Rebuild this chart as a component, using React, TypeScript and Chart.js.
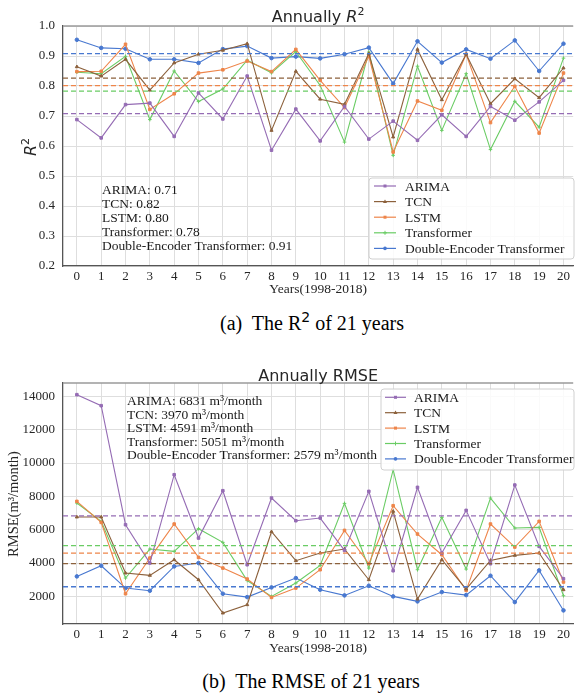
import React, { useEffect, useRef } from 'react';
import { Chart, registerables } from 'chart.js';

Chart.register(...registerables);

// ---------- data ----------
const YEARS = [0, 1, 2, 3, 4, 5, 6, 7, 8, 9, 10, 11, 12, 13, 14, 15, 16, 17, 18, 19, 20];
const MODELS = ['ARIMA', 'TCN', 'LSTM', 'Transformer', 'Double-Encoder Transformer'];
const COLORS = ['#956cb4', '#8c613c', '#ee854a', '#6acc64', '#4878d0'];
const MARKERS = ['rect', 'triangle', 'rect', 'cross', 'circle'];

const R2_ARIMA = [0.688, 0.627, 0.738, 0.743, 0.632, 0.777, 0.690, 0.833, 0.586, 0.723, 0.617, 0.732, 0.623, 0.683, 0.619, 0.704, 0.632, 0.732, 0.686, 0.747, 0.819];
const R2_TCN = [0.864, 0.833, 0.889, 0.786, 0.877, 0.906, 0.919, 0.941, 0.652, 0.849, 0.756, 0.739, 0.908, 0.630, 0.922, 0.754, 0.906, 0.741, 0.824, 0.761, 0.860];
const R2_LSTM = [0.848, 0.849, 0.939, 0.722, 0.774, 0.843, 0.854, 0.883, 0.848, 0.922, 0.819, 0.728, 0.899, 0.580, 0.750, 0.719, 0.906, 0.678, 0.799, 0.643, 0.843];
const R2_TRANSFORMER = [0.846, 0.841, 0.899, 0.688, 0.850, 0.748, 0.790, 0.886, 0.844, 0.915, 0.802, 0.613, 0.913, 0.569, 0.866, 0.652, 0.841, 0.588, 0.749, 0.663, 0.893];
const R2_DET = [0.954, 0.927, 0.924, 0.889, 0.889, 0.877, 0.923, 0.933, 0.893, 0.898, 0.892, 0.906, 0.928, 0.808, 0.949, 0.878, 0.922, 0.891, 0.952, 0.850, 0.941];
const R2_MEAN_LINES = [0.708, 0.826, 0.801, 0.783, 0.908];
const R2_MEAN_LABELS = ['0.71', '0.82', '0.80', '0.78', '0.91'];
const R2_TICKS = [0.2, 0.3, 0.4, 0.5, 0.6, 0.7, 0.8, 0.9, 1.0];

const RMSE_ARIMA = [14100, 13440, 6300, 4000, 9300, 5500, 8340, 3900, 7900, 6540, 6700, 4760, 8300, 3540, 8540, 4600, 7160, 3960, 8680, 5000, 3060];
const RMSE_TCN = [6760, 6760, 3400, 3260, 4200, 3000, 1000, 1500, 5880, 4140, 4600, 4840, 3000, 7100, 1840, 4200, 2440, 4160, 4460, 4600, 2400];
const RMSE_LSTM = [7700, 6440, 2160, 4300, 6340, 4340, 3700, 3040, 1940, 2500, 3600, 5960, 3960, 7440, 5740, 4500, 2360, 6340, 4960, 6500, 2860];
const RMSE_TRANSFORMER = [7600, 6500, 3100, 4840, 4700, 6060, 5240, 2950, 2000, 2800, 3860, 7580, 3700, 9600, 3600, 6740, 3640, 7900, 6100, 6140, 2040];
const RMSE_DET = [3200, 3840, 2500, 2340, 3800, 4000, 2160, 1960, 2540, 3100, 2400, 2060, 2640, 2000, 1700, 2260, 2080, 3240, 1660, 3560, 1160];
const RMSE_MEANS = [6831, 3970, 4591, 5051, 2579];
const RMSE_TICKS = [2000, 4000, 6000, 8000, 10000, 12000, 14000];

const X_MIN = -0.57;
const X_MAX = 20.4;

// ---------- styles ----------
const SERIF = '"Liberation Serif", "Times New Roman", serif';
const SANS = '"DejaVu Sans", sans-serif';
const GRID = '#dedede';
const AXIS = '#555555';
const TICK = '#262626';

type Part = { text: string; font: string; dy?: number };

type Spec = {
  height: number;
  padTop: number;
  areaBottom: number;
  yMin: number;
  yMax: number;
  yTicks: number[];
  yFmt: (v: number) => string;
  series: number[][];
  means: number[];
  title: Part[];
  titleBaseline: number;
  yLabel: Part[];
  yLabelX: number;
  yLabelY: number;
  xLabelBaseline: number;
  xTickPad: number;
  annot: { x: number; y0: number; dy: number; lines: string[] };
  legend: { x: number; y: number; w: number; h: number; row0: number; dy: number; hx0: number; hx1: number; tx: number };
};

function drawParts(ctx: CanvasRenderingContext2D, parts: Part[], cx: number, baseline: number) {
  let total = 0;
  parts.forEach((p) => {
    ctx.font = p.font;
    total += ctx.measureText(p.text).width;
  });
  let x = cx - total / 2;
  ctx.textAlign = 'left';
  ctx.textBaseline = 'alphabetic';
  parts.forEach((p) => {
    ctx.font = p.font;
    ctx.fillText(p.text, x, baseline + (p.dy || 0));
    x += ctx.measureText(p.text).width;
  });
}

function drawMarker(ctx: CanvasRenderingContext2D, style: string, x: number, y: number, r: number, color: string) {
  ctx.fillStyle = color;
  ctx.strokeStyle = color;
  ctx.lineWidth = 1;
  ctx.beginPath();
  if (style === 'rect') {
    ctx.fillRect(x - r * 0.75, y - r * 0.75, r * 1.5, r * 1.5);
  } else if (style === 'triangle') {
    ctx.moveTo(x, y - r * 1.1);
    ctx.lineTo(x + r, y + r * 0.7);
    ctx.lineTo(x - r, y + r * 0.7);
    ctx.closePath();
    ctx.fill();
  } else if (style === 'cross') {
    ctx.moveTo(x - r, y);
    ctx.lineTo(x + r, y);
    ctx.moveTo(x, y - r);
    ctx.lineTo(x, y + r);
    ctx.stroke();
  } else {
    ctx.arc(x, y, r * 0.9, 0, Math.PI * 2);
    ctx.fill();
  }
}

function overlay(spec: Spec) {
  return {
    id: 'overlay',
    afterDraw(chart: any) {
      const ctx: CanvasRenderingContext2D = chart.ctx;
      const a = chart.chartArea;
      ctx.save();
      // top frame line
      ctx.strokeStyle = '#9a9a9a';
      ctx.lineWidth = 1.5;
      ctx.beginPath();
      ctx.moveTo(a.left, a.top);
      ctx.lineTo(a.right, a.top);
      ctx.stroke();

      // title
      ctx.fillStyle = '#262626';
      drawParts(ctx, spec.title, (a.left + a.right) / 2, spec.titleBaseline);

      // x label
      ctx.fillStyle = '#262626';
      drawParts(ctx, [{ text: 'Years(1998-2018)', font: `13.5px ${SERIF}` }], (a.left + a.right) / 2, spec.xLabelBaseline);

      // y label
      ctx.save();
      ctx.translate(spec.yLabelX, spec.yLabelY);
      ctx.rotate(-Math.PI / 2);
      drawParts(ctx, spec.yLabel, 0, 0);
      ctx.restore();

      // annotation
      ctx.fillStyle = '#1a1a1a';
      ctx.font = `13.5px ${SERIF}`;
      ctx.textAlign = 'left';
      ctx.textBaseline = 'alphabetic';
      spec.annot.lines.forEach((t, i) => {
        ctx.fillText(t, spec.annot.x, spec.annot.y0 + i * spec.annot.dy);
      });

      // legend
      const L = spec.legend;
      ctx.beginPath();
      const rr = 3;
      ctx.moveTo(L.x + rr, L.y);
      ctx.lineTo(L.x + L.w - rr, L.y);
      ctx.quadraticCurveTo(L.x + L.w, L.y, L.x + L.w, L.y + rr);
      ctx.lineTo(L.x + L.w, L.y + L.h - rr);
      ctx.quadraticCurveTo(L.x + L.w, L.y + L.h, L.x + L.w - rr, L.y + L.h);
      ctx.lineTo(L.x + rr, L.y + L.h);
      ctx.quadraticCurveTo(L.x, L.y + L.h, L.x, L.y + L.h - rr);
      ctx.lineTo(L.x, L.y + rr);
      ctx.quadraticCurveTo(L.x, L.y, L.x + rr, L.y);
      ctx.closePath();
      ctx.fillStyle = 'rgba(255,255,255,0.85)';
      ctx.fill();
      ctx.strokeStyle = '#d0d0d0';
      ctx.lineWidth = 1;
      ctx.stroke();

      MODELS.forEach((name, i) => {
        const y = L.row0 + i * L.dy;
        ctx.strokeStyle = COLORS[i];
        ctx.lineWidth = 1.2;
        ctx.beginPath();
        ctx.moveTo(L.hx0, y);
        ctx.lineTo(L.hx1, y);
        ctx.stroke();
        drawMarker(ctx, MARKERS[i], (L.hx0 + L.hx1) / 2, y, 2, COLORS[i]);
        ctx.fillStyle = '#1a1a1a';
        ctx.font = `13.5px ${SERIF}`;
        ctx.textAlign = 'left';
        ctx.textBaseline = 'alphabetic';
        ctx.fillText(name, L.tx, y + 4.5);
      });
      ctx.restore();
    },
  };
}

function buildConfig(spec: Spec): any {
  const lineSets = spec.series.map((vals, i) => ({
    label: MODELS[i],
    data: vals.map((v, k) => ({ x: YEARS[k], y: v })),
    borderColor: COLORS[i],
    backgroundColor: COLORS[i],
    pointBackgroundColor: COLORS[i],
    pointBorderColor: COLORS[i],
    pointStyle: MARKERS[i],
    pointRadius: 1.8,
    pointBorderWidth: 1,
    pointHoverRadius: 0,
    borderWidth: 1.1,
    tension: 0,
    fill: false,
  }));
  const meanSets = spec.means.map((m, i) => ({
    label: MODELS[i] + ' mean',
    data: [
      { x: X_MIN, y: m },
      { x: X_MAX, y: m },
    ],
    borderColor: COLORS[i],
    borderDash: [5, 3],
    borderWidth: 1.3,
    pointRadius: 0,
    pointHoverRadius: 0,
    fill: false,
  }));
  const tickFont = { family: SERIF, size: 13 };
  return {
    type: 'line',
    data: { datasets: [...meanSets, ...lineSets] },
    options: {
      responsive: false,
      animation: false,
      devicePixelRatio: 1,
      events: [],
      layout: { padding: { top: spec.padTop, right: 1, left: 0, bottom: 0 } },
      plugins: { legend: { display: false }, tooltip: { enabled: false }, title: { display: false } },
      scales: {
        x: {
          type: 'linear',
          min: X_MIN,
          max: X_MAX,
          afterBuildTicks: (ax: any) => {
            ax.ticks = YEARS.map((v) => ({ value: v }));
          },
          afterFit: (s: any) => {
            s.height = spec.height - spec.areaBottom;
          },
          grid: { color: GRID, lineWidth: 1, drawTicks: false },
          border: { display: true, color: AXIS, width: 1.3 },
          ticks: {
            font: tickFont,
            color: TICK,
            padding: spec.xTickPad,
            maxRotation: 0,
            autoSkip: false,
            callback: (v: any) => String(v),
          },
        },
        y: {
          type: 'linear',
          min: spec.yMin,
          max: spec.yMax,
          afterBuildTicks: (ax: any) => {
            ax.ticks = spec.yTicks.map((v) => ({ value: v }));
          },
          afterFit: (s: any) => {
            s.width = 63;
          },
          grid: { color: GRID, lineWidth: 1, drawTicks: false },
          border: { display: true, color: AXIS, width: 1.3 },
          ticks: {
            font: tickFont,
            color: TICK,
            padding: 8,
            callback: (v: any) => spec.yFmt(Number(v)),
          },
        },
      },
    },
    plugins: [overlay(spec)],
  };
}

const SPEC_R2: Spec = {
  height: 305,
  padTop: 26,
  areaBottom: 266,
  yMin: 0.2,
  yMax: 1.0,
  yTicks: R2_TICKS,
  yFmt: (v) => v.toFixed(1),
  series: [R2_ARIMA, R2_TCN, R2_LSTM, R2_TRANSFORMER, R2_DET],
  means: R2_MEAN_LINES,
  title: [
    { text: 'Annually ', font: `16px ${SANS}` },
    { text: 'R', font: `oblique 16px ${SANS}` },
    { text: '2', font: `11px ${SANS}`, dy: -7 },
  ],
  titleBaseline: 21.5,
  yLabel: [
    { text: 'R', font: `oblique 16px ${SANS}` },
    { text: '2', font: `11px ${SANS}`, dy: -7 },
  ],
  yLabelX: 36,
  yLabelY: 147,
  xLabelBaseline: 293,
  xTickPad: 3,
  annot: { x: 102, y0: 194, dy: 14, lines: MODELS.map((m, i) => `${m}: ${R2_MEAN_LABELS[i]}`) },
  legend: { x: 369, y: 178, w: 205, h: 81, row0: 186, dy: 15.6, hx0: 374, hx1: 396, tx: 405 },
};

const SPEC_RMSE: Spec = {
  height: 320,
  padTop: 43,
  areaBottom: 284,
  yMin: 345,
  yMax: 14800,
  yTicks: RMSE_TICKS,
  yFmt: (v) => String(Math.round(v)),
  series: [RMSE_ARIMA, RMSE_TCN, RMSE_LSTM, RMSE_TRANSFORMER, RMSE_DET],
  means: RMSE_MEANS,
  title: [{ text: 'Annually RMSE', font: `16px ${SANS}` }],
  titleBaseline: 40.7,
  yLabel: [{ text: 'RMSE(m³/month)', font: `14.5px ${SERIF}` }],
  yLabelX: 18,
  yLabelY: 164,
  xLabelBaseline: 311.5,
  xTickPad: 3,
  annot: { x: 127, y0: 65.3, dy: 13.4, lines: MODELS.map((m, i) => `${m}: ${RMSE_MEANS[i]} m³/month`) },
  legend: { x: 381, y: 49, w: 193, h: 81, row0: 57.3, dy: 15.4, hx0: 385, hx1: 406, tx: 414 },
};

function Panel({ spec, top }: { spec: Spec; top: number }) {
  const ref = useRef<HTMLCanvasElement>(null);
  useEffect(() => {
    const chart = new Chart(ref.current as HTMLCanvasElement, buildConfig(spec));
    return () => chart.destroy();
  }, [spec]);
  return (
    <canvas
      ref={ref}
      width={576}
      height={spec.height}
      style={{ position: 'absolute', left: 0, top, width: 576, height: spec.height, display: 'block' }}
    />
  );
}

const captionStyle: React.CSSProperties = {
  position: 'absolute',
  transform: 'translateX(-50%)',
  fontFamily: SERIF,
  fontSize: 20,
  lineHeight: '20px',
  whiteSpace: 'nowrap',
  color: '#000',
};

export default function App() {
  return (
    <div style={{ position: 'absolute', left: 0, top: 0, width: 576, height: 694, background: '#fff', overflow: 'hidden' }}>
      <Panel spec={SPEC_R2} top={0} />
      <Panel spec={SPEC_RMSE} top={340} />
      <div style={{ ...captionStyle, left: 312, top: 313 }}>
        (a)&nbsp; The R<sup style={{ fontSize: 14, fontFamily: SANS, verticalAlign: 'top', lineHeight: '14px', position: 'relative', top: -3 }}>2</sup> of 21 years
      </div>
      <div style={{ ...captionStyle, left: 311, top: 671 }}>(b)&nbsp; The RMSE of 21 years</div>
    </div>
  );
}
